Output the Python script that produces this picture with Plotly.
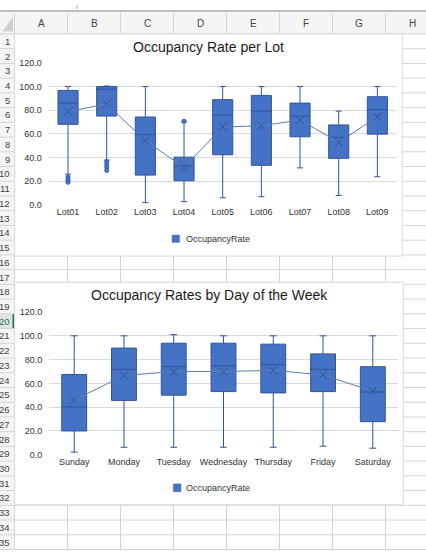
import plotly.graph_objects as go

W, H = 426, 554

# ---------------- data ----------------
lots = ["Lot01", "Lot02", "Lot03", "Lot04", "Lot05", "Lot06", "Lot07", "Lot08", "Lot09"]
lot_lower = [25.8, 37.7, 1.7, 2.5, 5.8, 6.7, 31.1, 7.8, 23.6]
lot_q1 = [68.0, 75.0, 25.0, 20.2, 42.2, 33.3, 57.5, 39.2, 59.7]
lot_median = [86.0, 97.8, 59.2, 32.7, 75.8, 79.2, 75.0, 57.0, 80.5]
lot_q3 = [96.7, 100.0, 74.2, 40.2, 88.9, 92.5, 86.0, 67.5, 91.4]
lot_upper = [100.0, 100.5, 100.0, 70.0, 100.0, 100.0, 100.0, 79.2, 100.0]
lot_mean = [78.8, 85.3, 54.2, 31.4, 65.8, 66.7, 71.7, 52.8, 74.4]
lot_out_x = ["Lot01", "Lot01", "Lot01", "Lot02", "Lot02", "Lot02", "Lot02", "Lot04"]
lot_out_y = [23.3, 21.0, 19.0, 36.5, 34.0, 31.5, 29.0, 70.6]

days = ["Sunday", "Monday", "Tuesday", "Wednesday", "Thursday", "Friday", "Saturday"]
day_lower = [2.2, 6.3, 6.3, 6.3, 6.3, 7.2, 5.5]
day_q1 = [20.0, 45.7, 50.1, 53.1, 52.0, 53.1, 27.8]
day_median = [40.2, 71.8, 74.0, 74.9, 75.7, 71.8, 52.8]
day_q3 = [67.5, 89.7, 93.8, 93.8, 93.0, 84.8, 74.0]
day_upper = [100.0, 100.0, 101.0, 100.0, 100.0, 100.0, 100.0]
day_mean = [46.0, 66.6, 70.0, 70.0, 71.0, 67.1, 53.4]

y_ticks = [0, 20, 40, 60, 80, 100, 120]
col_labels = ["A", "B", "C", "D", "E", "F", "G", "H"]
row_labels = [str(i) for i in range(1, 36)]
series_name = "OccupancyRate"
title1 = "Occupancy Rate per Lot"
title2 = "Occupancy Rates by Day of the Week"

# ---------------- helpers ----------------
def px(x):
    return x / W

def py(y):
    return 1 - y / H

FILL = "#4472C4"
EDGE = "#2F5597"
WHISK = "#5A7DB5"
GRID_SHEET = "#D4D4D4"
FONT = "Liberation Sans, Arial, sans-serif"

fig = go.Figure()

# box plot 1
fig.add_trace(go.Box(
    x=lots, q1=lot_q1, median=lot_median, q3=lot_q3,
    lowerfence=lot_lower, upperfence=lot_upper,
    fillcolor=FILL, line=dict(color=EDGE, width=1), width=0.52,
    whiskerwidth=0.3, boxpoints=False, showlegend=False,
    xaxis="x", yaxis="y", hoverinfo="skip"))
fig.add_trace(go.Scatter(
    x=lots, y=lot_mean, mode="lines+markers",
    line=dict(color=WHISK, width=1),
    marker=dict(symbol="x-thin", size=8, line=dict(color=EDGE, width=1)),
    showlegend=False, xaxis="x", yaxis="y", hoverinfo="skip"))
fig.add_trace(go.Scatter(
    x=lot_out_x, y=lot_out_y, mode="markers",
    marker=dict(symbol="circle", size=4.5, color=FILL, line=dict(color=EDGE, width=0.5)),
    showlegend=False, xaxis="x", yaxis="y", hoverinfo="skip"))

# box plot 2
fig.add_trace(go.Box(
    x=days, q1=day_q1, median=day_median, q3=day_q3,
    lowerfence=day_lower, upperfence=day_upper,
    fillcolor=FILL, line=dict(color=EDGE, width=1), width=0.5,
    whiskerwidth=0.28, boxpoints=False, showlegend=False,
    xaxis="x2", yaxis="y2", hoverinfo="skip"))
fig.add_trace(go.Scatter(
    x=days, y=day_mean, mode="lines+markers",
    line=dict(color=WHISK, width=1),
    marker=dict(symbol="x-thin", size=8, line=dict(color=EDGE, width=1)),
    showlegend=False, xaxis="x2", yaxis="y2", hoverinfo="skip"))

# ---------------- spreadsheet background ----------------
shapes = []
shapes.append(dict(type="rect", xref="paper", yref="paper", x0=0, x1=1,
                   y0=py(29.5), y1=py(7), fillcolor="#F5F5F5", line=dict(width=0), layer="below"))
shapes.append(dict(type="rect", xref="paper", yref="paper", x0=0, x1=px(14.5),
                   y0=0, y1=py(29.5), fillcolor="#F5F5F5", line=dict(width=0), layer="below"))
shapes.append(dict(type="line", xref="paper", yref="paper", x0=0, x1=1, y0=py(6), y1=py(6),
                   line=dict(color="#A8A8A8", width=1.5), layer="below"))
shapes.append(dict(type="line", xref="paper", yref="paper", x0=px(77), x1=px(77), y0=py(0), y1=py(4),
                   line=dict(color="#A8A8A8", width=1), layer="below"))
shapes.append(dict(type="path", xref="paper", yref="paper",
                   path=f"M {px(2)},{py(27)} L {px(13)},{py(27)} L {px(13)},{py(12)} Z",
                   fillcolor="#D0D0D0", line=dict(width=0), layer="below"))
# selected row 20 marker
shapes.append(dict(type="rect", xref="paper", yref="paper", x0=0, x1=px(12.5),
                   y0=py(329.5), y1=py(314.5), fillcolor="#E2E2E2", line=dict(width=0), layer="below"))
shapes.append(dict(type="rect", xref="paper", yref="paper", x0=px(12.5), x1=px(14.5),
                   y0=py(329.5), y1=py(314.5), fillcolor="#1E7145", line=dict(width=0), layer="below"))
col_x = [14.5, 67.5, 120.5, 173.5, 226.5, 279.5, 332.5, 385.5]
for cx in col_x:
    shapes.append(dict(type="line", xref="paper", yref="paper", x0=px(cx), x1=px(cx),
                       y0=0, y1=py(8), line=dict(color=GRID_SHEET, width=1), layer="below"))
for k in range(0, 36):
    yy = 29.5 + 15 * k
    shapes.append(dict(type="line", xref="paper", yref="paper", x0=0, x1=1,
                       y0=py(yy), y1=py(yy), line=dict(color=GRID_SHEET, width=1), layer="below"))
# chart areas
for (x0, x1, y0, y1) in [(14.7, 402.3, 29.5, 255.7), (14.7, 403.3, 282.3, 509.0)]:
    shapes.append(dict(type="rect", xref="paper", yref="paper", x0=px(x0), x1=px(x1),
                       y0=py(y1), y1=py(y0), fillcolor="white",
                       line=dict(color="#D9D9D9", width=1), layer="below"))
# legend squares
shapes.append(dict(type="rect", xref="paper", yref="paper", x0=px(172), x1=px(179.5),
                   y0=py(241.7), y1=py(234.3), fillcolor=FILL, line=dict(color=FILL, width=0.5)))
shapes.append(dict(type="rect", xref="paper", yref="paper", x0=px(173.3), x1=px(181),
                   y0=py(495.7), y1=py(487.7), fillcolor=FILL, line=dict(color=FILL, width=0.5)))

annotations = []
col_centers = [41, 94, 147, 200, 253, 306, 359, 412]
for lab, cx in zip(col_labels, col_centers):
    annotations.append(dict(text=lab, x=px(cx), y=py(19), xref="paper", yref="paper",
                            showarrow=False, font=dict(family=FONT, size=10, color="#444444"),
                            xanchor="center", yanchor="middle"))
for i, lab in enumerate(row_labels, start=1):
    yy = 22 + 15 * i
    annotations.append(dict(text=lab, x=px(11.5), y=py(yy), xref="paper", yref="paper",
                            showarrow=False, xanchor="right", yanchor="middle",
                            font=dict(family=FONT, size=9.5,
                                      color="#1E7145" if lab == "20" else "#444444")))
annotations.append(dict(text=title1, x=px(208), y=py(42.7), xref="paper", yref="paper",
                        showarrow=False, xanchor="center", yanchor="middle",
                        font=dict(family=FONT, size=14, color="#1A1A1A")))
annotations.append(dict(text=title2, x=px(209), y=py(295), xref="paper", yref="paper",
                        showarrow=False, xanchor="center", yanchor="middle",
                        font=dict(family=FONT, size=14, color="#1A1A1A")))
annotations.append(dict(text=series_name, x=px(183.5), y=py(238), xref="paper", yref="paper",
                        showarrow=False, xanchor="left", yanchor="middle",
                        font=dict(family=FONT, size=9, color="#333333")))
annotations.append(dict(text=series_name, x=px(184.3), y=py(491.7), xref="paper", yref="paper",
                        showarrow=False, xanchor="left", yanchor="middle",
                        font=dict(family=FONT, size=9, color="#333333")))

axis_common = dict(showline=False, zeroline=False, ticks="",
                   tickfont=dict(family=FONT, size=9, color="#333333"))

fig.update_layout(
    width=W, height=H, margin=dict(l=0, r=0, t=0, b=0),
    paper_bgcolor="white", plot_bgcolor="rgba(0,0,0,0)",
    showlegend=False, shapes=shapes, annotations=annotations,
    xaxis=dict(domain=[px(48.7), px(396.7)], anchor="y", type="category",
               categoryorder="array", categoryarray=lots, range=[-0.5, 8.5],
               showgrid=False, **axis_common),
    yaxis=dict(domain=[py(203.3), py(59)], anchor="x", range=[0, 120],
               tickvals=y_ticks, tickformat=".1f", showgrid=True,
               gridcolor="#D9D9D9", gridwidth=1, ticklabelstandoff=6, **axis_common),
    xaxis2=dict(domain=[px(49.3), px(397.7)], anchor="y2", type="category",
                categoryorder="array", categoryarray=days, range=[-0.5, 6.5],
                showgrid=False, **axis_common),
    yaxis2=dict(domain=[py(458), py(312.7)], anchor="x2", range=[0, 120],
                tickvals=y_ticks, tickformat=".1f", showgrid=True,
                gridcolor="#D9D9D9", gridwidth=1, ticklabelstandoff=6, **axis_common),
)

fig.write_html(
    "out.html",
    config={"displayModeBar": False, "staticPlot": True},
    post_script="document.body.style.margin='0';document.body.style.overflow='hidden';",
)
